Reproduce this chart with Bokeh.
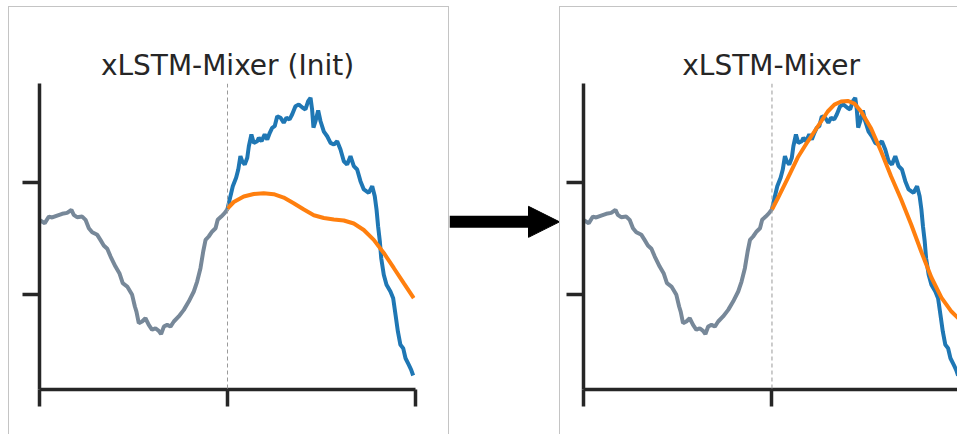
from bokeh.plotting import figure
from bokeh.layouts import row, column
from bokeh.models import Range1d, FixedTicker, CustomJSTickFormatter, Span, Arrow, NormalHead, Spacer
from bokeh.embed import file_html
from bokeh.resources import INLINE

# ---------------- data ----------------
titles = ["xLSTM-Mixer (Init)", "xLSTM-Mixer"]
x_ticks = [0, 96, 192]
y_ticks = [0, 1]
split_x = 96

hist_x = [0, 2.7, 4.8, 6.5, 9.0, 11.6, 14.1, 16.3, 17.5, 19.2, 21.8, 23.5, 25.2, 26.9,
          29.5, 31.1, 32.8, 34.6, 36.3, 38.8, 40.8, 42.5, 44.8, 47.3, 48.7, 49.5, 50.7,
          52.4, 54.1, 55.8, 57.5, 59.2, 60.9, 62.1, 63.5, 65.2, 66.9, 68.6, 71.1, 73.7,
          76.2, 78.8, 80.5, 82.2, 83.6, 84.8, 86.4, 88.2, 89.9, 91.0, 92.8, 94.5, 96.0]
hist_y = [0.665, 0.637, 0.696, 0.688, 0.705, 0.721, 0.729, 0.756, 0.712, 0.690, 0.696,
          0.667, 0.592, 0.556, 0.533, 0.488, 0.438, 0.408, 0.339, 0.250, 0.190, 0.101,
          0.071, -0.003, -0.107, -0.152, -0.256, -0.241, -0.212, -0.271, -0.315, -0.301,
          -0.324, -0.354, -0.286, -0.271, -0.286, -0.241, -0.196, -0.137, -0.063, 0.027,
          0.116, 0.235, 0.384, 0.488, 0.518, 0.563, 0.592, 0.667, 0.696, 0.726, 0.763]

true_x = [96.0, 97.5, 98.7, 100.4, 101.5, 102.6, 103.5, 104.8, 106.1, 106.9, 108.2, 109.4,
          111.2, 112.0, 113.4, 115.0, 116.3, 117.6, 118.8, 120.1, 121.4, 123.1, 124.7,
          126.1, 127.7, 129.0, 130.7, 132.4, 134.4, 135.8, 137.2, 138.4, 139.2, 139.9,
          140.9, 142.3, 143.5, 145.2, 146.9, 148.6, 150.3, 152.0, 153.7, 155.4, 157.1,
          158.8, 160.5, 162.2, 163.9, 165.6, 168.1, 169.9, 171.2, 172.1, 172.9, 173.8,
          174.5, 175.8, 177.2, 179.2, 180.6, 181.8, 183.0, 184.3, 185.7, 186.9, 188.6,
          189.8, 190.8]
true_y = [0.763, 0.878, 0.967, 1.042, 1.116, 1.235, 1.190, 1.161, 1.221, 1.324, 1.429,
          1.354, 1.369, 1.399, 1.369, 1.429, 1.384, 1.444, 1.488, 1.503, 1.592, 1.578,
          1.533, 1.578, 1.563, 1.607, 1.681, 1.696, 1.667, 1.652, 1.726, 1.756, 1.652,
          1.491, 1.545, 1.643, 1.547, 1.455, 1.413, 1.354, 1.339, 1.369, 1.295, 1.190,
          1.161, 1.235, 1.146, 1.116, 1.012, 0.938, 0.908, 0.967, 0.878, 0.759, 0.610,
          0.473, 0.324, 0.176, 0.087, 0.027, -0.033, -0.181, -0.330, -0.449, -0.479,
          -0.569, -0.628, -0.672, -0.723]

init_x = [96.0, 99.2, 104.3, 109.4, 114.5, 119.6, 124.7, 129.8, 135.0, 140.1, 145.2,
          150.3, 155.4, 160.5, 165.6, 170.7, 175.8, 180.9, 186.0, 191.1]
init_y = [0.768, 0.826, 0.875, 0.897, 0.904, 0.896, 0.866, 0.815, 0.759, 0.708, 0.683,
          0.670, 0.661, 0.634, 0.576, 0.488, 0.371, 0.237, 0.101, -0.033]

pred_x = [96.0, 98.9, 104.0, 109.1, 114.2, 119.3, 124.4, 127.8, 131.2, 134.6, 138.0,
          141.4, 146.5, 151.6, 156.7, 161.8, 166.9, 172.0, 177.2, 182.3, 187.4, 191.0, 192.0]
pred_y = [0.759, 0.857, 1.036, 1.223, 1.366, 1.500, 1.634, 1.696, 1.723, 1.728, 1.705,
          1.634, 1.482, 1.277, 1.054, 0.848, 0.625, 0.384, 0.152, -0.027, -0.152, -0.214, -0.232]

# arrow between panels, placed on the panels' own value scale
arrow_y = 0.64

# ---------------- styling ----------------
INK = "#262626"
GRAY = "#778899"
BLUE = "#1f77b4"
ORANGE = "#ff7f0e"
BORDER = "1px solid #c4c4c4"
H = 428
Y_RANGE = (-0.848, 1.884)
TITLE_PX = 28


def panel(title, width, x_end, ticks, pred_xs, pred_ys, border, b_left, b_right,
          title_align, title_offset):
    p = figure(width=width, height=H, output_backend="svg", toolbar_location=None,
               x_range=Range1d(0, x_end), y_range=Range1d(*Y_RANGE),
               min_border_left=b_left, min_border_right=b_right,
               min_border_top=75, min_border_bottom=46)
    p.outline_line_color = None
    p.xgrid.visible = False
    p.ygrid.visible = False
    p.title.text = title
    p.title.align = title_align
    p.title.offset = title_offset
    p.title.text_font = "DejaVu Sans"
    p.title.text_font_size = f"{TITLE_PX}px"
    p.title.text_font_style = "normal"
    p.title.text_color = INK
    p.title.standoff = 3
    for ax, tk in ((p.xaxis[0], ticks), (p.yaxis[0], y_ticks)):
        ax.ticker = FixedTicker(ticks=tk)
        ax.formatter = CustomJSTickFormatter(code="return ''")
        ax.axis_line_color = INK
        ax.axis_line_width = 3.5
        ax.major_tick_line_color = INK
        ax.major_tick_line_width = 3.5
        ax.major_tick_out = 17
        ax.major_tick_in = 0
        ax.minor_tick_line_color = None
        ax.major_label_standoff = 0
    p.add_layout(Span(location=split_x, dimension="height", line_color="#9a9a9a",
                      line_width=1, line_dash="4 3"))
    p.line(hist_x, hist_y, line_color=GRAY, line_width=4)
    p.line(true_x, true_y, line_color=BLUE, line_width=4)
    p.line(pred_xs, pred_ys, line_color=ORANGE, line_width=4)
    p.styles = border
    return p


left = panel(titles[0], 441, 192, x_ticks, init_x, init_y,
             {"border-top": BORDER, "border-left": BORDER, "border-right": BORDER},
             30, 35, "center", 0)

mid = figure(width=110, height=H, output_backend="svg", toolbar_location=None,
             x_axis_location=None, y_axis_location=None,
             x_range=Range1d(0, 110), y_range=Range1d(*Y_RANGE),
             min_border_left=0, min_border_right=0, min_border_top=76, min_border_bottom=46)
mid.title.text = ""
mid.outline_line_color = None
mid.grid.visible = False
mid.add_layout(Arrow(x_start=0, y_start=arrow_y, x_end=110, y_end=arrow_y, line_width=12,
                     line_color="black",
                     end=NormalHead(size=31, fill_color="black", line_color="black", line_width=1)))

right_title_offset = 188 - 0.5 * 6.378 * TITLE_PX
right = panel(titles[1], 398, 191.0, x_ticks[:2], pred_x, pred_y,
              {"border-top": BORDER, "border-left": BORDER},
              23, 0, "left", right_title_offset)

layout = column(Spacer(height=6), row(Spacer(width=8), left, mid, right, spacing=0), spacing=0)
open("out.html", "w").write(file_html(layout, INLINE))
